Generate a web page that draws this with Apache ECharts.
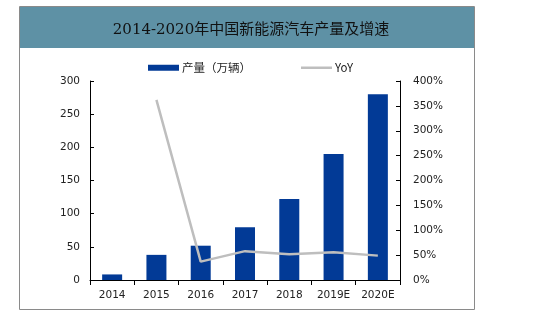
<!DOCTYPE html>
<html><head><meta charset="utf-8">
<script src="https://cdn.jsdelivr.net/npm/echarts@6/dist/echarts.min.js"></script>
<style>html,body{margin:0;padding:0;background:#fff}#c{width:554px;height:322px}</style>
</head><body><div id="c"></div>
<script>
var categories = ['2014','2015','2016','2017','2018','2019E','2020E'];
var production = [8.4, 37.9, 51.7, 79.4, 122, 190, 280];
var yoy = [null, 362, 37, 58, 52, 56, 49];
var leftTicks = [0, 300, 50];
var rightTicks = [0, 400, 50];

var chart = echarts.init(document.getElementById('c'), null, {renderer:'canvas'});
var axisFont = {fontFamily:'DejaVu Sans', fontSize:10.5, color:'#222'};
chart.setOption({
  animation:false,
  graphic:[
    {type:'rect', shape:{x:19.5,y:6.5,width:455,height:303}, style:{fill:'#fff',stroke:'#8a8a8a',lineWidth:1}, z:-10},
    {type:'rect', shape:{x:20,y:7,width:454,height:41}, style:{fill:'#5E91A5'}, z:-9}
  ],
  title:{text:'2014-2020年中国新能源汽车产量及增速', left:246, top:18, textAlign:'center',
    textStyle:{fontFamily:'DejaVu Serif, Noto Sans CJK SC', fontSize:15, fontWeight:'normal', color:'#111'}},
  legend:{top:57, left:143, itemGap:50, itemWidth:31, itemHeight:6,
    textStyle:{fontFamily:'Noto Sans CJK SC, DejaVu Sans', fontSize:11.5, color:'#222', padding:[0,0,0,-2]},
    data:[{name:'产量（万辆）', icon:'rect'},{name:'YoY', icon:'path://M0,0L31,0L31,2.5L0,2.5Z'}]},
  grid:{left:90, right:154, top:81, bottom:42},
  xAxis:{type:'category', data:categories,
    axisLine:{lineStyle:{color:'#000', width:1}},
    axisTick:{show:true, alignWithLabel:false, inside:false, length:5, lineStyle:{color:'#000'}},
    axisLabel:Object.assign({margin:10}, axisFont)},
  yAxis:[
    {type:'value', min:leftTicks[0], max:leftTicks[1], interval:leftTicks[2],
     axisLine:{show:true, lineStyle:{color:'#000'}},
     axisTick:{show:true, inside:true, length:4, lineStyle:{color:'#000'}},
     splitLine:{show:false},
     axisLabel:Object.assign({margin:10}, axisFont)},
    {type:'value', min:rightTicks[0], max:rightTicks[1], interval:rightTicks[2], position:'right',
     axisLine:{show:true, lineStyle:{color:'#000'}},
     axisTick:{show:true, inside:true, length:4, lineStyle:{color:'#000'}},
     splitLine:{show:false},
     axisLabel:Object.assign({margin:13, formatter:'{value}%'}, axisFont)}
  ],
  series:[
    {name:'产量（万辆）', type:'bar', data:production, barWidth:20, itemStyle:{color:'#023A96'}},
    {name:'YoY', type:'line', yAxisIndex:1, data:yoy, symbol:'none', connectNulls:false,
     lineStyle:{color:'#BEBEBE', width:2.5}, itemStyle:{color:'#BEBEBE'}}
  ]
});
</script></body></html>
